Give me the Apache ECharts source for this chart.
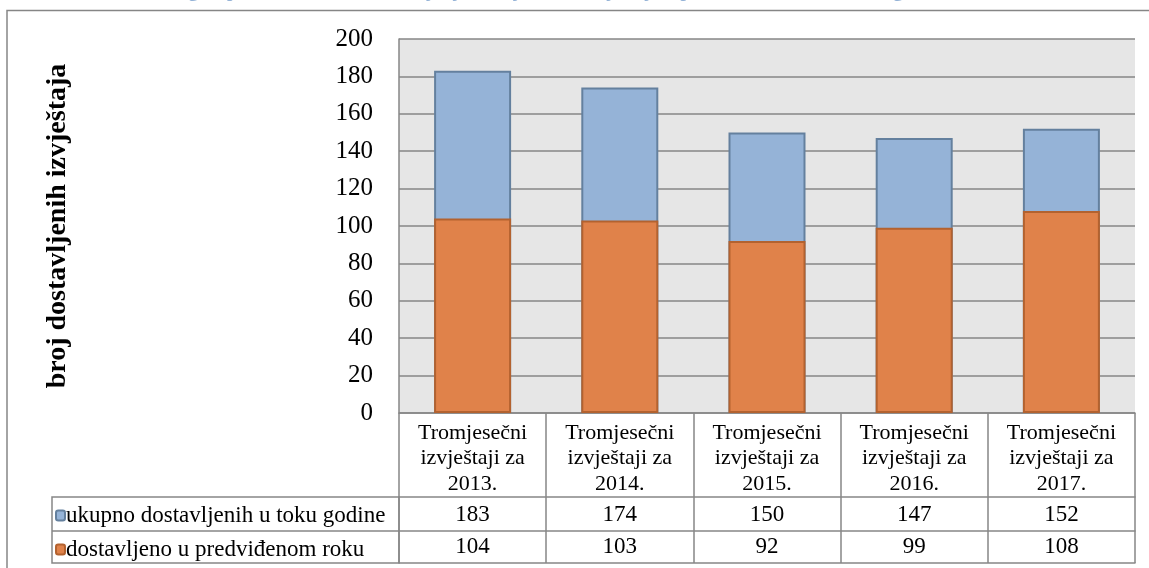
<!DOCTYPE html>
<html>
<head>
<meta charset="utf-8">
<script src="https://cdn.jsdelivr.net/npm/echarts@6/dist/echarts.min.js"></script>
<style>
html,body{margin:0;padding:0;background:#fff;}
#chart{width:1149px;height:568px;}
</style>
</head>
<body>
<div id="chart"></div>
<script>
// ---- data ----
const categories = [
  'Tromjesečni\nizvještaji za\n2013.',
  'Tromjesečni\nizvještaji za\n2014.',
  'Tromjesečni\nizvještaji za\n2015.',
  'Tromjesečni\nizvještaji za\n2016.',
  'Tromjesečni\nizvještaji za\n2017.'
];
const seriesNames = ['ukupno dostavljenih u toku godine', 'dostavljeno u predviđenom roku'];
const totalDelivered = [183, 174, 150, 147, 152];
const onTimeDelivered = [104, 103, 92, 99, 108];
const yMin = 0, yMax = 200, yStep = 20;
const yAxisTitle = 'broj dostavljenih izvještaja';
const chartTitle = 'Grafikon 1: Pregled pravovremenosti dostavljanja tromjesečnih izvještaja u periodu od 2013. do 2017. godine';

// ---- layout ----
const GL = 399, GR = 1135, GT = 39, GB = 413;
const W = 1149, H = 568;
const HEADER_H = 84, ROW1 = 34, ROW2 = 32;
const LEG_L = 52;
const gray = '#868686';
const serif = '"Liberation Serif", "DejaVu Serif", serif';

const chart = echarts.init(document.getElementById('chart'), null, {renderer: 'canvas'});
const rowTop1 = GB + HEADER_H, rowTop2 = rowTop1 + ROW1, tableBottom = rowTop2 + ROW2;

const option = {
  animation: false,
  backgroundColor: '#ffffff',
  grid: {
    left: GL, right: W - GR, top: GT, bottom: H - GB,
    show: true, backgroundColor: '#E6E6E6', borderWidth: 0
  },
  legend: {
    orient: 'vertical',
    left: LEG_L + 3, top: rowTop1 + 7,
    itemWidth: 9, itemHeight: 10, itemGap: 11,
    padding: 0,
    textStyle: {fontFamily: serif, fontSize: 23, lineHeight: 22, color: '#000', padding: [0, 0, 0, -4]},
    data: seriesNames
  },
  xAxis: [
    {
      type: 'category', data: categories, position: 'bottom',
      axisLine: {show: true, lineStyle: {color: gray, width: 1.5}},
      axisTick: {show: true, length: HEADER_H + ROW1 + ROW2, lineStyle: {color: gray, width: 1.5}},
      axisLabel: {interval: 0, margin: 7, fontFamily: serif, fontSize: 22, lineHeight: 25.5, color: '#000'},
      splitLine: {show: false}
    },
    {
      type: 'category', data: totalDelivered.map(String), position: 'bottom', offset: HEADER_H,
      axisLine: {show: true, lineStyle: {color: gray, width: 1.5}},
      axisTick: {show: false},
      axisLabel: {interval: 0, margin: ROW1 / 2 + 1, verticalAlign: 'middle', fontFamily: serif, fontSize: 23, color: '#000'}
    },
    {
      type: 'category', data: onTimeDelivered.map(String), position: 'bottom', offset: HEADER_H + ROW1,
      axisLine: {show: true, lineStyle: {color: gray, width: 1.5}},
      axisTick: {show: false},
      axisLabel: {interval: 0, margin: ROW2 / 2, verticalAlign: 'middle', fontFamily: serif, fontSize: 23, color: '#000'}
    },
    {
      type: 'category', data: categories, position: 'bottom', offset: HEADER_H + ROW1 + ROW2,
      axisLine: {show: true, lineStyle: {color: gray, width: 1.5}},
      axisTick: {show: false},
      axisLabel: {show: false}
    }
  ],
  yAxis: {
    type: 'value', min: yMin, max: yMax, interval: yStep,
    name: yAxisTitle, nameLocation: 'middle', nameRotate: 90, nameGap: 327,
    nameTextStyle: {fontFamily: serif, fontSize: 28, fontWeight: 'bold', color: '#000'},
    axisLine: {show: true, lineStyle: {color: gray, width: 1.5}},
    axisTick: {show: false},
    axisLabel: {margin: 26, fontFamily: serif, fontSize: 25, color: '#000'},
    splitLine: {show: true, lineStyle: {color: gray, width: 1.5}}
  },
  series: [
    {
      name: seriesNames[0], type: 'bar', xAxisIndex: 0, data: totalDelivered,
      barWidth: 77, barGap: '-100%', z: 2,
      itemStyle: {color: '#95B3D7', borderColor: '#64809E', borderWidth: 2}
    },
    {
      name: seriesNames[1], type: 'bar', xAxisIndex: 0, data: onTimeDelivered,
      barWidth: 77, barGap: '-100%', z: 3,
      itemStyle: {color: '#E0824A', borderColor: '#B3622F', borderWidth: 2}
    }
  ],
  graphic: [
    {
      type: 'text', left: 60, top: -17, silent: true,
      style: {text: chartTitle, fontFamily: serif, fontSize: 19, fontWeight: 'bold', fill: '#95B3D7'}
    },
    {
      type: 'polyline', silent: true,
      shape: {points: [[7, H], [7, 10.5], [W, 10.5]]},
      style: {stroke: gray, lineWidth: 1.5, fill: null}
    },
    {
      type: 'rect', silent: true,
      shape: {x: LEG_L, y: rowTop1, width: GL - LEG_L, height: ROW1 + ROW2},
      style: {stroke: gray, lineWidth: 1.5, fill: null}
    },
    {
      type: 'line', silent: true,
      shape: {x1: LEG_L, y1: rowTop2, x2: GL, y2: rowTop2},
      style: {stroke: gray, lineWidth: 1.5}
    }
  ]
};
chart.setOption(option);
</script>
</body>
</html>
